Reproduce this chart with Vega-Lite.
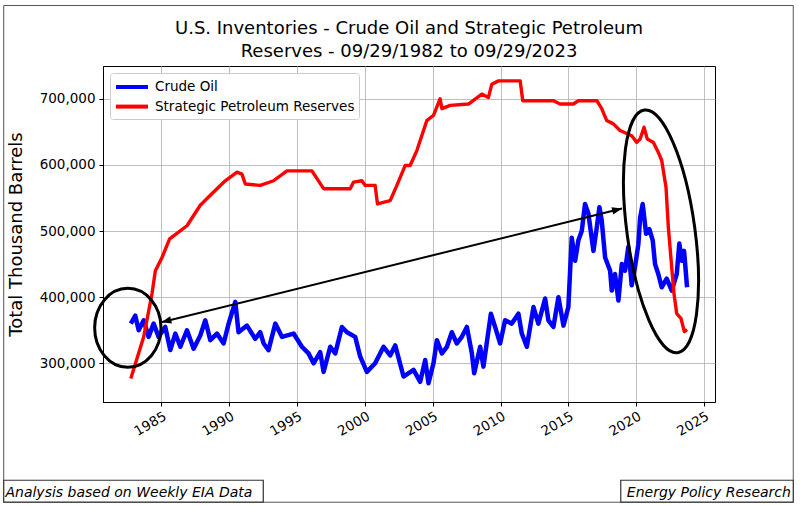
{
  "$schema": "https://vega.github.io/schema/vega-lite/v6.json",
  "width": 612,
  "height": 336,
  "autosize": {"type": "none"},
  "padding": {"left": 103, "top": 66, "right": 85, "bottom": 103},
  "background": "white",
  "title": {
    "text": ["U.S. Inventories - Crude Oil and Strategic Petroleum", "Reserves - 09/29/1982 to 09/29/2023"],
    "font": "DejaVu Sans",
    "fontSize": 18,
    "fontWeight": "normal",
    "color": "black",
    "anchor": "middle",
    "frame": "group",
    "lineHeight": 23,
    "offset": 0,
    "dy": 55.5
  },
  "datasets": {
    "crude": [
      {"year": 1982.75, "barrels": 360000}, {"year": 1983.08, "barrels": 372000}, {"year": 1983.33, "barrels": 350000},
      {"year": 1983.70, "barrels": 365000}, {"year": 1984.06, "barrels": 340000}, {"year": 1984.43, "barrels": 360000},
      {"year": 1984.80, "barrels": 340000}, {"year": 1985.29, "barrels": 355000}, {"year": 1985.66, "barrels": 320000},
      {"year": 1986.03, "barrels": 345000}, {"year": 1986.40, "barrels": 325000}, {"year": 1986.89, "barrels": 350000},
      {"year": 1987.38, "barrels": 322000}, {"year": 1987.87, "barrels": 342000}, {"year": 1988.24, "barrels": 365000},
      {"year": 1988.61, "barrels": 335000}, {"year": 1989.10, "barrels": 345000}, {"year": 1989.59, "barrels": 330000},
      {"year": 1989.96, "barrels": 360000}, {"year": 1990.45, "barrels": 393000}, {"year": 1990.69, "barrels": 347000},
      {"year": 1991.31, "barrels": 357000}, {"year": 1991.92, "barrels": 337000}, {"year": 1992.29, "barrels": 347000},
      {"year": 1992.54, "barrels": 330000}, {"year": 1992.90, "barrels": 320000}, {"year": 1993.40, "barrels": 360000},
      {"year": 1993.89, "barrels": 340000}, {"year": 1994.75, "barrels": 345000}, {"year": 1995.36, "barrels": 325000},
      {"year": 1995.85, "barrels": 315000}, {"year": 1996.22, "barrels": 300000}, {"year": 1996.71, "barrels": 317000},
      {"year": 1996.96, "barrels": 287000}, {"year": 1997.45, "barrels": 325000}, {"year": 1997.82, "barrels": 315000},
      {"year": 1998.31, "barrels": 355000}, {"year": 1998.68, "barrels": 347000}, {"year": 1999.29, "barrels": 340000},
      {"year": 1999.66, "barrels": 310000}, {"year": 2000.15, "barrels": 287000}, {"year": 2000.76, "barrels": 300000},
      {"year": 2001.38, "barrels": 325000}, {"year": 2001.87, "barrels": 312000}, {"year": 2002.24, "barrels": 327000},
      {"year": 2002.85, "barrels": 280000}, {"year": 2003.59, "barrels": 290000}, {"year": 2004.08, "barrels": 272000},
      {"year": 2004.45, "barrels": 305000}, {"year": 2004.69, "barrels": 270000}, {"year": 2005.06, "barrels": 300000},
      {"year": 2005.31, "barrels": 335000}, {"year": 2005.68, "barrels": 315000}, {"year": 2006.05, "barrels": 325000},
      {"year": 2006.41, "barrels": 347000}, {"year": 2006.78, "barrels": 330000}, {"year": 2007.15, "barrels": 340000},
      {"year": 2007.52, "barrels": 355000}, {"year": 2007.89, "barrels": 315000}, {"year": 2008.06, "barrels": 285000},
      {"year": 2008.50, "barrels": 325000}, {"year": 2008.74, "barrels": 295000}, {"year": 2009.29, "barrels": 375000},
      {"year": 2009.60, "barrels": 355000}, {"year": 2009.97, "barrels": 330000}, {"year": 2010.34, "barrels": 365000},
      {"year": 2010.83, "barrels": 360000}, {"year": 2011.32, "barrels": 375000}, {"year": 2011.57, "barrels": 345000},
      {"year": 2011.94, "barrels": 325000}, {"year": 2012.43, "barrels": 385000}, {"year": 2012.79, "barrels": 360000},
      {"year": 2013.29, "barrels": 398000}, {"year": 2013.53, "barrels": 365000}, {"year": 2013.90, "barrels": 355000},
      {"year": 2014.27, "barrels": 400000}, {"year": 2014.64, "barrels": 357000}, {"year": 2015.00, "barrels": 385000},
      {"year": 2015.25, "barrels": 490000}, {"year": 2015.50, "barrels": 455000}, {"year": 2015.74, "barrels": 486000},
      {"year": 2015.99, "barrels": 500000}, {"year": 2016.23, "barrels": 541000}, {"year": 2016.48, "barrels": 526000},
      {"year": 2016.85, "barrels": 470000}, {"year": 2017.10, "barrels": 506000}, {"year": 2017.29, "barrels": 536000},
      {"year": 2017.46, "barrels": 516000}, {"year": 2017.71, "barrels": 460000}, {"year": 2018.08, "barrels": 440000},
      {"year": 2018.20, "barrels": 410000}, {"year": 2018.44, "barrels": 435000}, {"year": 2018.69, "barrels": 395000},
      {"year": 2018.94, "barrels": 450000}, {"year": 2019.18, "barrels": 440000}, {"year": 2019.42, "barrels": 476000},
      {"year": 2019.67, "barrels": 418000}, {"year": 2019.91, "barrels": 445000}, {"year": 2020.16, "barrels": 480000},
      {"year": 2020.29, "barrels": 520000}, {"year": 2020.48, "barrels": 541000}, {"year": 2020.73, "barrels": 496000},
      {"year": 2020.97, "barrels": 503000}, {"year": 2021.22, "barrels": 486000}, {"year": 2021.39, "barrels": 450000},
      {"year": 2021.63, "barrels": 435000}, {"year": 2021.88, "barrels": 415000}, {"year": 2022.25, "barrels": 428000},
      {"year": 2022.62, "barrels": 410000}, {"year": 2022.99, "barrels": 435000}, {"year": 2023.18, "barrels": 481000},
      {"year": 2023.36, "barrels": 455000}, {"year": 2023.53, "barrels": 470000}, {"year": 2023.75, "barrels": 415000}
    ],
    "spr": [
      {"year": 1982.75, "barrels": 277000}, {"year": 1983.70, "barrels": 340000}, {"year": 1984.31, "barrels": 405000},
      {"year": 1984.56, "barrels": 440000}, {"year": 1985.05, "barrels": 460000}, {"year": 1985.61, "barrels": 488000},
      {"year": 1986.89, "barrels": 508000}, {"year": 1987.87, "barrels": 539000}, {"year": 1988.61, "barrels": 554000},
      {"year": 1989.71, "barrels": 576000}, {"year": 1990.58, "barrels": 589000}, {"year": 1990.94, "barrels": 586000},
      {"year": 1991.19, "barrels": 571000}, {"year": 1992.29, "barrels": 569000}, {"year": 1993.27, "barrels": 576000},
      {"year": 1994.26, "barrels": 591000}, {"year": 1996.10, "barrels": 591000}, {"year": 1996.96, "barrels": 564000},
      {"year": 1998.92, "barrels": 564000}, {"year": 1999.17, "barrels": 574000}, {"year": 1999.78, "barrels": 576000},
      {"year": 2000.03, "barrels": 569000}, {"year": 2000.76, "barrels": 569000}, {"year": 2000.93, "barrels": 541000},
      {"year": 2001.87, "barrels": 546000}, {"year": 2002.36, "barrels": 569000}, {"year": 2002.97, "barrels": 599000},
      {"year": 2003.34, "barrels": 599000}, {"year": 2003.84, "barrels": 622000}, {"year": 2004.08, "barrels": 637000},
      {"year": 2004.57, "barrels": 667000}, {"year": 2005.06, "barrels": 675000}, {"year": 2005.55, "barrels": 700000},
      {"year": 2005.68, "barrels": 685000}, {"year": 2006.29, "barrels": 690000}, {"year": 2007.64, "barrels": 692000},
      {"year": 2008.62, "barrels": 707000}, {"year": 2009.11, "barrels": 702000}, {"year": 2009.36, "barrels": 722000},
      {"year": 2009.85, "barrels": 727000}, {"year": 2011.45, "barrels": 727000}, {"year": 2011.64, "barrels": 697000},
      {"year": 2013.90, "barrels": 697000}, {"year": 2014.39, "barrels": 692000}, {"year": 2015.37, "barrels": 692000},
      {"year": 2015.74, "barrels": 697000}, {"year": 2017.10, "barrels": 697000}, {"year": 2017.46, "barrels": 685000},
      {"year": 2017.83, "barrels": 667000}, {"year": 2018.32, "barrels": 662000}, {"year": 2018.81, "barrels": 652000},
      {"year": 2019.67, "barrels": 644000}, {"year": 2020.04, "barrels": 634000}, {"year": 2020.29, "barrels": 639000},
      {"year": 2020.58, "barrels": 657000}, {"year": 2020.82, "barrels": 639000}, {"year": 2021.27, "barrels": 634000},
      {"year": 2021.63, "barrels": 619000}, {"year": 2021.88, "barrels": 607000}, {"year": 2022.20, "barrels": 566000},
      {"year": 2022.37, "barrels": 506000}, {"year": 2022.62, "barrels": 445000}, {"year": 2022.79, "barrels": 405000},
      {"year": 2022.99, "barrels": 375000}, {"year": 2023.30, "barrels": 368000}, {"year": 2023.55, "barrels": 348000},
      {"year": 2023.75, "barrels": 351000}
    ],
    "circles": [
      {"name": "start", "year": 1982.53, "barrels": 353600},
      {"name": "recent", "year": 2021.83, "barrels": 499500}
    ],
    "arrow": [
      {"year": 1985.0, "barrels": 362000, "year_end": 2018.96, "barrels_end": 534000}
    ],
    "frame": [
      {"x0": 1973.383, "x1": 2031.578, "y0": 89971, "y1": 840938}
    ],
    "notes": [
      {"note": "Analysis based on Weekly EIA Data", "x0": 1973.383, "x1": 1992.514, "y0": 89971, "y1": 123213, "tx": 1973.51, "ty": 97980},
      {"note": "Energy Policy Research", "x0": 2018.864, "x1": 2031.578, "y0": 89971, "y1": 123213, "tx": 2019.31, "ty": 97980}
    ]
  },
  "layer": [
    {
      "data": {"name": "crude"},
      "transform": [{"calculate": "'Crude Oil'", "as": "series"}],
      "mark": {"type": "line", "strokeWidth": 4.5, "strokeJoin": "round"},
      "encoding": {
        "x": {
          "field": "year", "type": "quantitative",
          "scale": {"domain": [1980.7, 2025.81], "zero": false, "nice": false},
          "axis": {"title": null, "values": [1985, 1990, 1995, 2000, 2005, 2010, 2015, 2020, 2025], "format": "d", "labelAngle": -30, "labelPadding": 3}
        },
        "y": {
          "field": "barrels", "type": "quantitative",
          "scale": {"domain": [241500, 749500], "zero": false, "nice": false},
          "axis": {"title": "Total Thousand Barrels", "values": [300000, 400000, 500000, 600000, 700000], "format": ",d", "titleFontSize": 18, "titlePadding": 14, "labelPadding": 4}
        },
        "color": {
          "field": "series", "type": "nominal",
          "scale": {"domain": ["Crude Oil", "Strategic Petroleum Reserves"], "range": ["#0000ff", "#ff0000"]},
          "legend": {
            "title": null, "orient": "top-left", "offset": 7, "fillColor": "white", "strokeColor": "#cccccc",
            "cornerRadius": 3, "padding": 4, "symbolType": "M-1,0L3,0", "symbolSize": 256, "symbolStrokeWidth": 4,
            "labelFont": "DejaVu Sans", "labelFontSize": 13.5, "labelColor": "black", "labelOffset": 21, "labelLimit": 0, "rowPadding": 1.6
          }
        }
      }
    },
    {
      "data": {"name": "spr"},
      "transform": [{"calculate": "'Strategic Petroleum Reserves'", "as": "series"}],
      "mark": {"type": "line", "strokeWidth": 3.4, "strokeJoin": "round"},
      "encoding": {
        "x": {"field": "year", "type": "quantitative"},
        "y": {"field": "barrels", "type": "quantitative"},
        "color": {"field": "series", "type": "nominal"}
      }
    },
    {
      "data": {"name": "frame"},
      "mark": {"type": "rect", "fill": "transparent", "stroke": "#555555", "strokeWidth": 1},
      "encoding": {
        "x": {"field": "x0", "type": "quantitative"},
        "x2": {"field": "x1"},
        "y": {"field": "y0", "type": "quantitative"},
        "y2": {"field": "y1"}
      }
    },
    {
      "data": {"name": "notes"},
      "mark": {"type": "rect", "fill": "white", "stroke": "#333333", "strokeWidth": 1.2},
      "encoding": {
        "x": {"field": "x0", "type": "quantitative"},
        "x2": {"field": "x1"},
        "y": {"field": "y0", "type": "quantitative"},
        "y2": {"field": "y1"}
      }
    },
    {
      "data": {"name": "notes"},
      "mark": {"type": "text", "align": "left", "baseline": "alphabetic", "font": "DejaVu Sans", "fontStyle": "italic", "fontSize": 14, "color": "black"},
      "encoding": {
        "x": {"field": "tx", "type": "quantitative"},
        "y": {"field": "ty", "type": "quantitative"},
        "text": {"field": "note"}
      }
    },
    {
      "data": {"name": "arrow"},
      "mark": {"type": "rule", "color": "black", "strokeWidth": 2},
      "encoding": {
        "x": {"field": "year", "type": "quantitative"},
        "y": {"field": "barrels", "type": "quantitative"},
        "x2": {"field": "year_end"},
        "y2": {"field": "barrels_end"}
      }
    },
    {
      "data": {"name": "arrow"},
      "mark": {"type": "point", "shape": "M0,0L2,-0.75L2,0.75Z", "size": 100, "angle": -13.9, "filled": true, "color": "black", "opacity": 1},
      "encoding": {
        "x": {"field": "year", "type": "quantitative"},
        "y": {"field": "barrels", "type": "quantitative"}
      }
    },
    {
      "data": {"name": "arrow"},
      "mark": {"type": "point", "shape": "M0,0L-2,-0.75L-2,0.75Z", "size": 100, "angle": -13.9, "filled": true, "color": "black", "opacity": 1},
      "encoding": {
        "x": {"field": "year_end", "type": "quantitative"},
        "y": {"field": "barrels_end", "type": "quantitative"}
      }
    },
    {
      "data": {"name": "circles"},
      "transform": [{"filter": "datum.name == 'start'"}],
      "mark": {"type": "point", "shape": "M0,-1C0.464,-1 0.84,-0.552 0.84,0C0.84,0.552 0.464,1 0,1C-0.464,1 -0.84,0.552 -0.84,0C-0.84,-0.552 -0.464,-1 0,-1Z", "size": 6241, "filled": false, "stroke": "black", "strokeWidth": 3, "opacity": 1},
      "encoding": {
        "x": {"field": "year", "type": "quantitative"},
        "y": {"field": "barrels", "type": "quantitative"}
      }
    },
    {
      "data": {"name": "circles"},
      "transform": [{"filter": "datum.name == 'recent'"}],
      "mark": {"type": "point", "shape": "M0,-1C0.153,-1 0.277,-0.552 0.277,0C0.277,0.552 0.153,1 0,1C-0.153,1 -0.277,0.552 -0.277,0C-0.277,-0.552 -0.153,-1 0,-1Z", "size": 60025, "angle": -7.8, "filled": false, "stroke": "black", "strokeWidth": 3, "opacity": 1},
      "encoding": {
        "x": {"field": "year", "type": "quantitative"},
        "y": {"field": "barrels", "type": "quantitative"}
      }
    }
  ],
  "config": {
    "font": "DejaVu Sans",
    "view": {"stroke": "black", "strokeWidth": 1},
    "axis": {
      "labelFont": "DejaVu Sans", "labelFontSize": 13.5, "labelColor": "black",
      "tickColor": "black", "tickSize": 4, "domainColor": "black",
      "gridColor": "#b0b0b0", "gridWidth": 0.8,
      "titleFont": "DejaVu Sans", "titleFontWeight": "normal", "titleColor": "black"
    }
  }
}
